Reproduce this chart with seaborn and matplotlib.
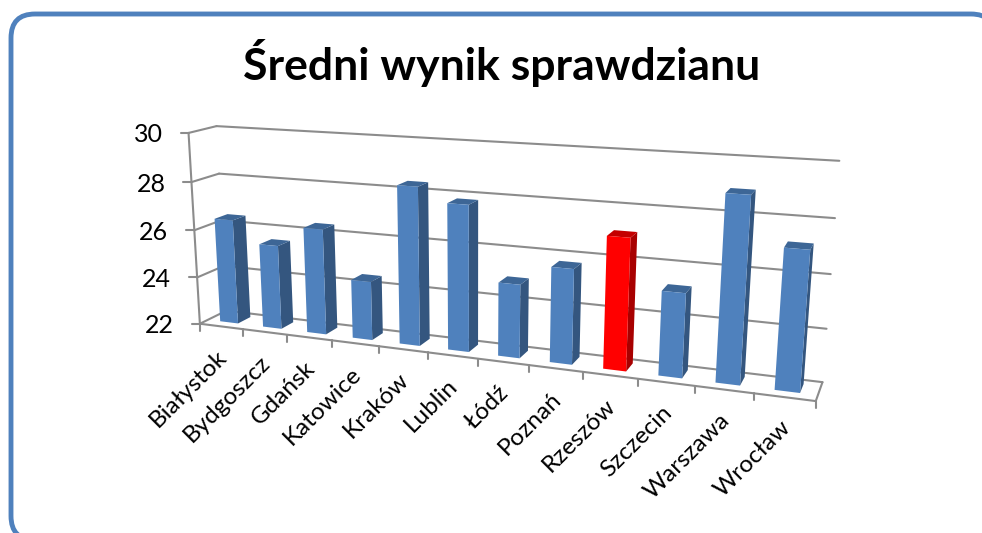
import numpy as np
import pandas as pd
import seaborn as sns
from matplotlib import pyplot as plt
from matplotlib.patches import FancyBboxPatch, Polygon
from matplotlib.transforms import Affine2D, Transform

miasta = ['Białystok', 'Bydgoszcz', 'Gdańsk', 'Katowice', 'Kraków', 'Lublin',
          'Łódź', 'Poznań', 'Rzeszów', 'Szczecin', 'Warszawa', 'Wrocław']
wyniki = [26.4, 25.5, 26.35, 24.4, 28.35, 27.8, 24.9, 25.7, 27.05, 25.2, 28.9, 27.15]
wartosci_osi = [22, 24, 26, 28, 30]
tytul = 'Średni wynik sprawdzianu'

W, H = 982, 533
BLUE = '#4F81BD'
RED = '#FF0000'
GRID = '#8C8C8C'
XMIN, XMAX = -0.5, 11.5
YMIN, YMAX = 22, 30

# camera calibration: box points (x, value, depth) -> picture pixels
calib = [
    (XMIN, 22, 0, 202, 322), (XMIN, 24, 0, 198, 277), (XMIN, 26, 0, 195, 230),
    (XMIN, 28, 0, 190, 182), (XMIN, 30, 0, 186, 134),
    (XMIN, 22, 1, 223, 313), (XMIN, 28, 1, 221, 173), (XMIN, 30, 1, 218, 126),
    (XMAX, 22, 1, 822, 381), (XMAX, 24, 1, 827, 328), (XMAX, 26, 1, 831, 274),
    (XMAX, 28, 1, 835, 218), (XMAX, 30, 1, 839, 161),
    (XMAX, 22, 0, 816, 402),
    (3.5, 22, 0, 380, 345), (7.5, 22, 0, 582, 374),
]


def norm(x, v, z):
    return (np.asarray(x, float) - XMIN) / (XMAX - XMIN), (np.asarray(v, float) - YMIN) / (YMAX - YMIN), np.asarray(z, float)


rows = []
for x, v, z, u, w in calib:
    a, b, c = norm(x, v, z)
    rows.append([a, b, c, 1, 0, 0, 0, 0, -u * a, -u * b, -u * c, -u])
    rows.append([0, 0, 0, 0, a, b, c, 1, -w * a, -w * b, -w * c, -w])
P = np.linalg.svd(np.array(rows))[2][-1].reshape(3, 4)


def project(x, v, z):
    a, b, c = norm(x, v, z)
    d = P[2, 0] * a + P[2, 1] * b + P[2, 2] * c + P[2, 3]
    return ((P[0, 0] * a + P[0, 1] * b + P[0, 2] * c + P[0, 3]) / d,
            (P[1, 0] * a + P[1, 1] * b + P[1, 2] * c + P[1, 3]) / d)


class Plane(Transform):
    input_dims = 2
    output_dims = 2
    is_affine = False

    def __init__(self, z):
        super().__init__()
        self.z = z

    def transform_non_affine(self, values):
        values = np.asarray(values, float)
        u, w = project(values[:, 0], values[:, 1], self.z)
        return np.column_stack([u, w])


sns.set_theme(style='white')
plt.rcParams['font.family'] = ['Lato', 'DejaVu Sans']

fig = plt.figure(figsize=(W / 100, H / 100), dpi=100)
ax = fig.add_axes([0, 0, 1, 1])
pix = Affine2D().scale(1, -1).translate(0, H)

df = pd.DataFrame({'miasto': miasta, 'wynik': wyniki})
kolory = [RED if m == 'Rzeszów' else BLUE for m in miasta]
sns.barplot(data=df, x='miasto', y='wynik', hue='miasto', palette=kolory, legend=False,
            width=0.42, saturation=1, ax=ax)
ax.set_xlim(XMIN, XMAX)
ax.set_ylim(YMIN, YMAX)
ax.set_axis_off()

ramka = FancyBboxPatch((11, 14), 984, 526, boxstyle='round,pad=0,rounding_size=24',
                       fc='white', ec=BLUE, lw=3.5, transform=pix, zorder=0.5)
ax.add_patch(ramka)


def line3d(a, b, **kw):
    (x0, y0), (x1, y1) = project(*a), project(*b)
    ax.plot([x0, x1], [y0, y1], color=GRID, lw=1.5, transform=pix, clip_on=False, zorder=1, **kw)


# walls and floor
for t in wartosci_osi:
    line3d((XMIN, t, 1), (XMAX, t, 1))
    line3d((XMIN, t, 0), (XMIN, t, 1))
    u, w = project(XMIN, t, 0)
    ax.plot([u - 8, u], [w, w], color=GRID, lw=1.5, transform=pix, clip_on=False, zorder=1)
    ax.text(u - 26, w + 2, str(t), transform=pix, ha='right', va='center', fontsize=18, color='black')
line3d((XMIN, 22, 0), (XMIN, 30, 0))
line3d((XMIN, 22, 0), (XMAX, 22, 0))
line3d((XMAX, 22, 0), (XMAX, 22, 1))
for k in range(len(miasta) + 1):
    u, w = project(XMIN + k, 22, 0)
    ax.plot([u, u], [w, w + 7], color=GRID, lw=1.5, transform=pix, clip_on=False, zorder=1)

# bars: seaborn's rectangles put on the front plane, side and top added from them
Z0, Z1 = 0.3, 0.78
front = Plane(Z0) + pix
for bar in ax.patches:
    if bar is ramka:
        continue
    left, right, top = bar.get_x(), bar.get_x() + bar.get_width(), bar.get_height()
    bar.set_y(YMIN)
    bar.set_height(top - YMIN)
    bar.set_transform(front)
    bar.set_clip_on(False)
    bar.set_edgecolor('none')
    bar.set_zorder(3)
    czerwony = bar.get_facecolor()[1] < 0.2
    bok = '#A80000' if czerwony else '#34567F'
    wierzch = '#C40000' if czerwony else '#3D6696'
    side = [project(right, YMIN, Z0), project(right, YMIN, Z1), project(right, top, Z1), project(right, top, Z0)]
    cap = [project(left, top, Z0), project(right, top, Z0), project(right, top, Z1), project(left, top, Z1)]
    ax.add_patch(Polygon(side, fc=bok, ec='none', transform=pix, clip_on=False, zorder=2))
    ax.add_patch(Polygon(cap, fc=wierzch, ec='none', transform=pix, clip_on=False, zorder=2))

for i, m in enumerate(miasta):
    u, w = project(i, 22, 0)
    ax.text(u + 2, w + 27, m, transform=pix, rotation=45, rotation_mode='anchor',
            ha='right', va='center', fontsize=17.5, color='black')

ax.text(502, 63, tytul, transform=pix, ha='center', va='center', fontsize=32,
        fontweight='bold', color='black')

fig.savefig('out.png', dpi=100)
